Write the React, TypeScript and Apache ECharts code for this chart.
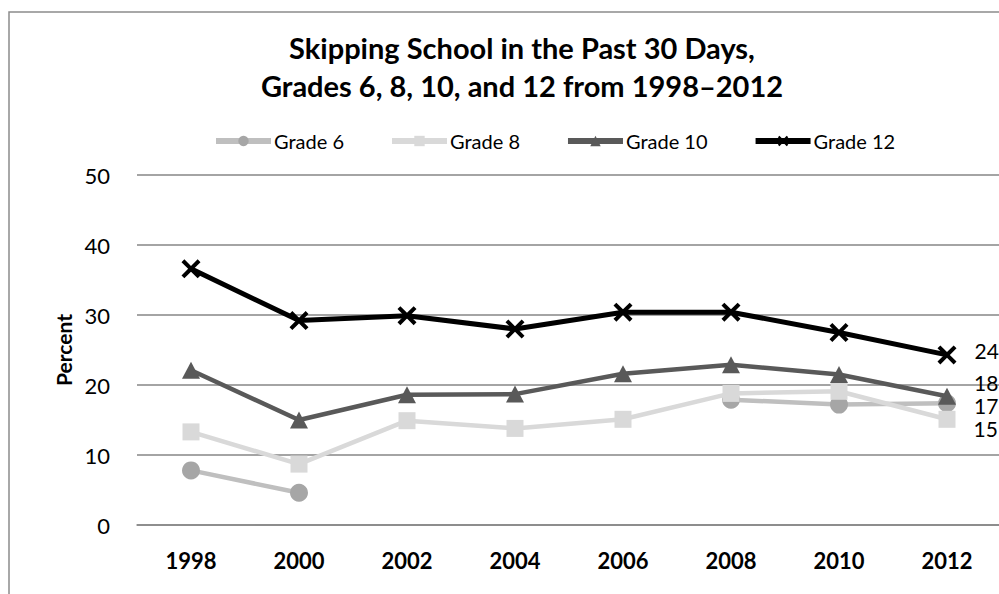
import React, { useEffect, useRef } from "react";
import * as echarts from "echarts";

const years = ["1998", "2000", "2002", "2004", "2006", "2008", "2010", "2012"];
const grade6 = [7.8, 4.6, null, null, null, 17.9, 17.2, 17.4];
const grade8 = [13.3, 8.7, 14.9, 13.8, 15.1, 18.8, 19.1, 15.1];
const grade10 = [22.1, 15.0, 18.6, 18.7, 21.6, 22.9, 21.5, 18.4];
const grade12 = [36.6, 29.2, 29.9, 28.0, 30.4, 30.4, 27.5, 24.3];
const yTicks = [0, 10, 20, 30, 40, 50];

const FONT = "Lato";
const CROSS =
  "path://M1.5,0 L5,3.5 L8.5,0 L10,1.5 L6.5,5 L10,8.5 L8.5,10 L5,6.5 L1.5,10 L0,8.5 L3.5,5 L0,1.5 Z";

function withEndLabel(values: (number | null)[], offset: number[]) {
  const last = values.length - 1;
  return values.map((v, i) =>
    i === last && v !== null
      ? {
          value: v,
          label: {
            show: true,
            position: "right",
            distance: 18,
            offset,
            formatter: (p: any) => String(Math.round(p.value)),
            fontFamily: FONT,
            fontSize: 21,
            lineHeight: 18,
            color: "#000",
          },
        }
      : v
  );
}

export default function App() {
  const ref = useRef<HTMLDivElement>(null);
  useEffect(() => {
    if (!ref.current) return;
    const chart = echarts.init(ref.current, undefined, { renderer: "svg" });
    chart.setOption({
      animation: false,
      backgroundColor: "#fff",
      title: {
        text: "Skipping School in the Past 30 Days,\nGrades 6, 8, 10, and 12 from 1998\u20132012",
        left: "center",
        top: 23,
        textStyle: {
          fontFamily: FONT,
          fontWeight: "bold",
          fontSize: 29,
          lineHeight: 38,
          color: "#000",
        },
      },
      legend: {
        left: 208,
        top: 126,
        itemWidth: 55,
        itemHeight: 13,
        itemGap: 45,
        lineStyle: { width: 6 },
        textStyle: { fontFamily: FONT, fontSize: 20, color: "#000", padding: [0, 0, 0, -2] },
        data: ["Grade 6", "Grade 8", "Grade 10", "Grade 12"],
      },
      graphic: [
        {
          type: "rect",
          shape: { x: 9, y: 12, width: 1026, height: 700 },
          style: { fill: "none", stroke: "#8c8c8c", lineWidth: 1.5 },
          silent: true,
        },
      ],
      grid: { left: 137, width: 864, top: 175, height: 350 },
      xAxis: {
        type: "category",
        data: years,
        boundaryGap: true,
        axisLine: { show: true, lineStyle: { color: "#868686", width: 1.5 } },
        axisTick: { show: false },
        axisLabel: {
          fontFamily: FONT,
          fontWeight: "bold",
          fontSize: 22,
          color: "#000",
          margin: 24,
        },
      },
      yAxis: {
        type: "value",
        min: 0,
        max: 50,
        interval: 10,
        name: "Percent",
        nameLocation: "middle",
        nameRotate: 90,
        nameGap: 63,
        nameTextStyle: { fontFamily: FONT, fontWeight: "bold", fontSize: 21, color: "#000" },
        axisLine: { show: false },
        axisTick: { show: false },
        axisLabel: {
          fontFamily: FONT,
          fontSize: 22,
          color: "#000",
          margin: 27,
          formatter: (v: number) => (yTicks.includes(v) ? String(v) : ""),
        },
        splitLine: { show: true, lineStyle: { color: "#868686", width: 1.5 } },
      },
      series: [
        {
          name: "Grade 6",
          type: "line",
          data: withEndLabel(grade6, [0, 2]),
          connectNulls: false,
          symbol: "circle",
          symbolSize: 18,
          lineStyle: { color: "#bfbfbf", width: 4.5 },
          itemStyle: { color: "#a6a6a6" },
          z: 2,
        },
        {
          name: "Grade 8",
          type: "line",
          data: withEndLabel(grade8, [0, 9]),
          symbol: "rect",
          symbolSize: 17,
          lineStyle: { color: "#d9d9d9", width: 4.5 },
          itemStyle: { color: "#d9d9d9" },
          z: 3,
        },
        {
          name: "Grade 10",
          type: "line",
          data: withEndLabel(grade10, [0, -14]),
          symbol: "triangle",
          symbolSize: [18, 17],
          lineStyle: { color: "#595959", width: 4.5 },
          itemStyle: { color: "#595959" },
          z: 4,
        },
        {
          name: "Grade 12",
          type: "line",
          data: withEndLabel(grade12, [0, -4]),
          symbol: CROSS,
          symbolSize: 19,
          lineStyle: { color: "#000", width: 5 },
          itemStyle: { color: "#000" },
          z: 5,
        },
      ],
    });
    return () => chart.dispose();
  }, []);
  return (
    <div
      style={{
        position: "absolute",
        left: 0,
        top: 0,
        width: 999,
        height: 594,
        overflow: "hidden",
        background: "#fff",
      }}
    >
      <div ref={ref} style={{ width: 1044, height: 594 }} />
    </div>
  );
}
